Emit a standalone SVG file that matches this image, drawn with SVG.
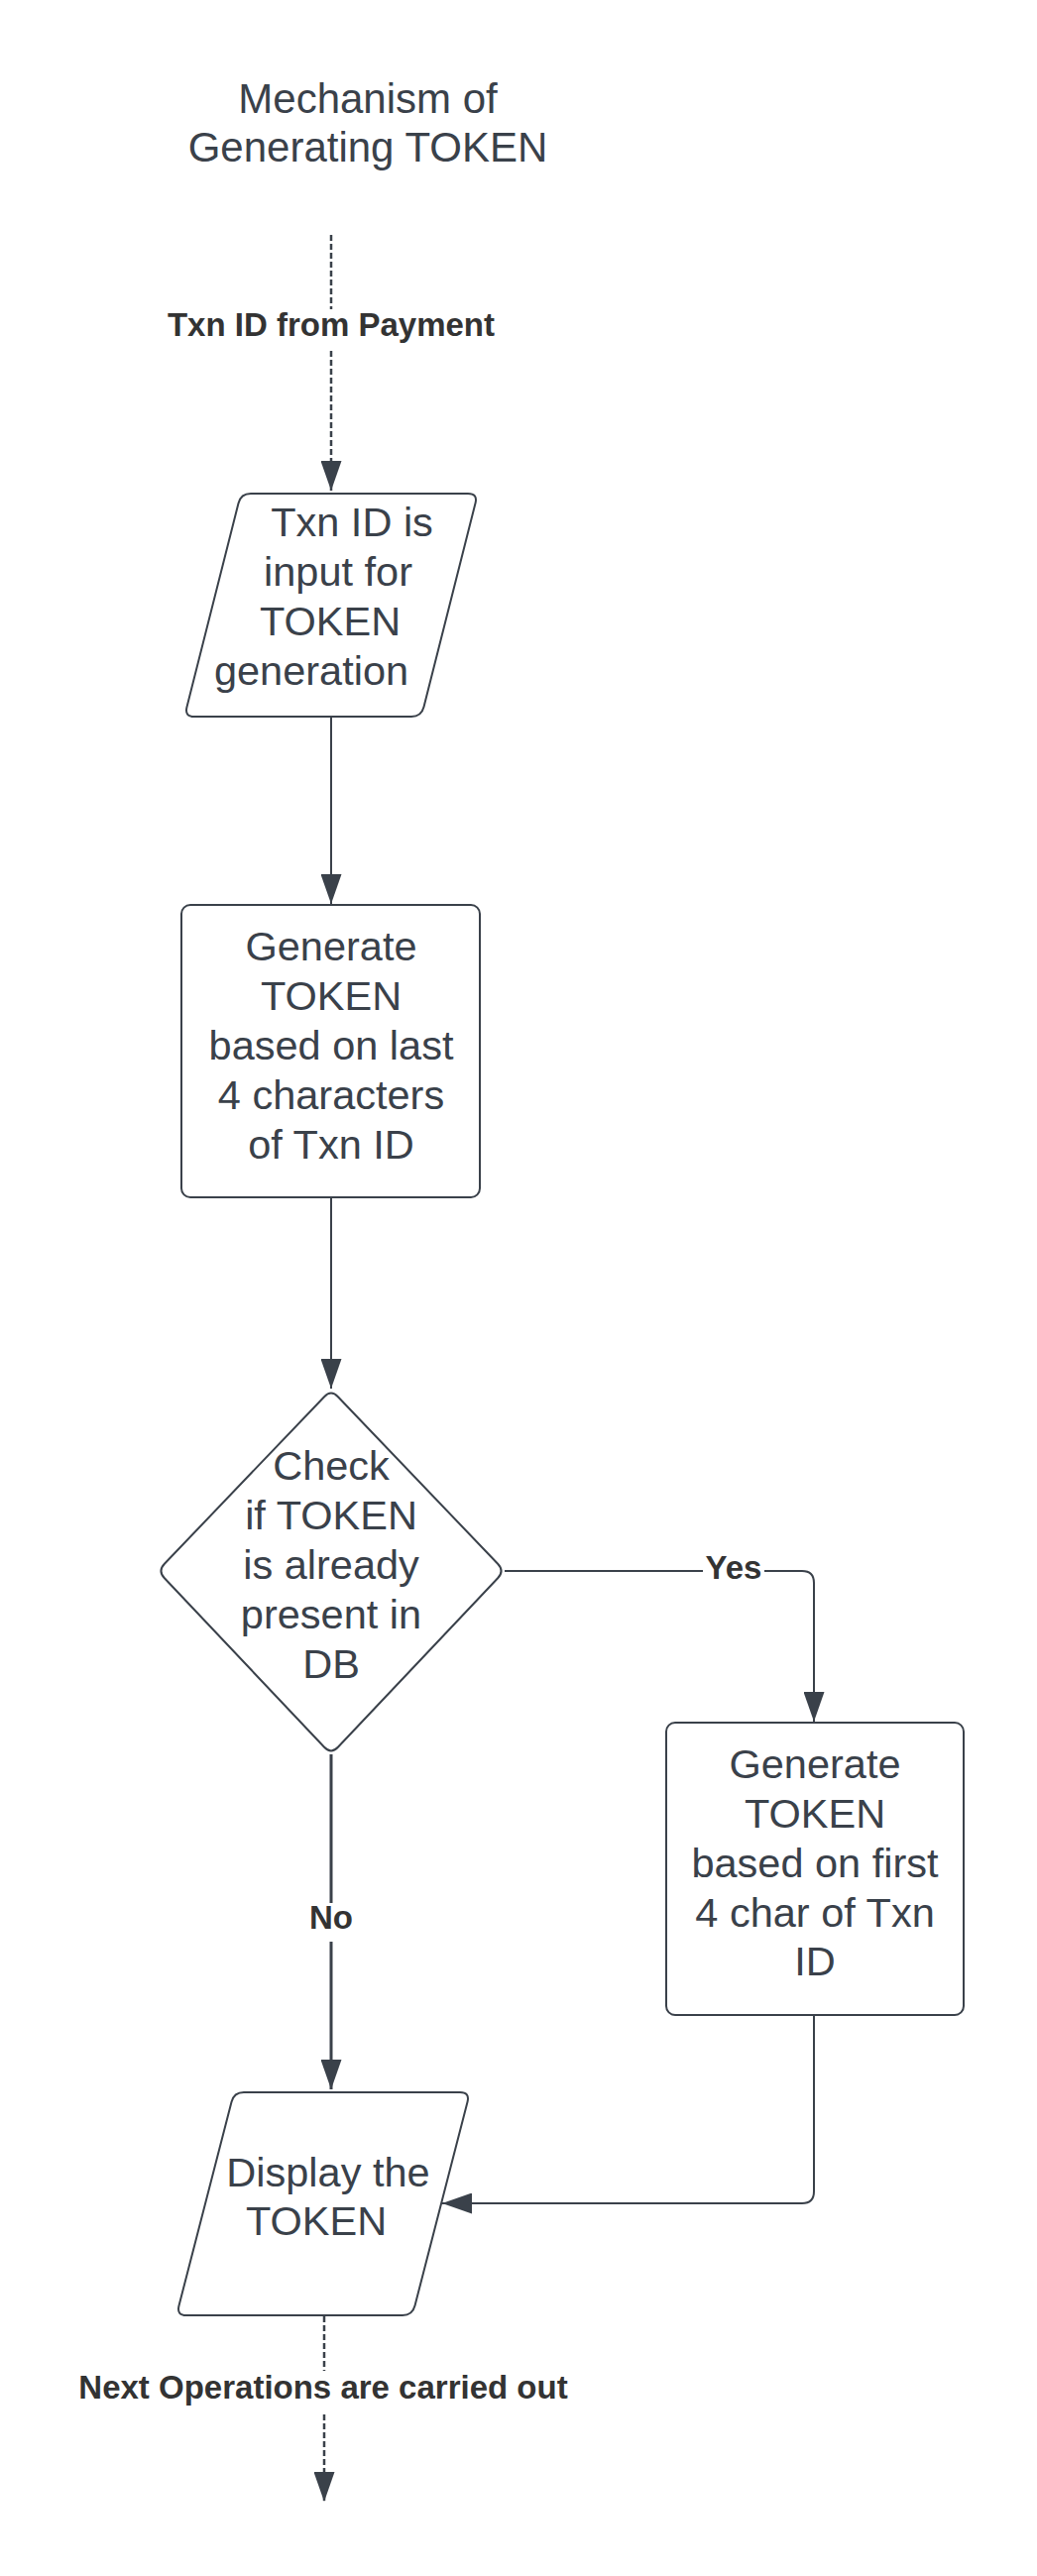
<svg xmlns="http://www.w3.org/2000/svg" width="1046" height="2599" viewBox="0 0 1046 2599">
<style>
.shape{fill:#ffffff;stroke:#3a414a;stroke-width:2}
.t{font-family:"Liberation Sans",Arial,sans-serif;font-size:41.5px;fill:#3a414a;text-anchor:middle}
.title{font-size:42px}
.lbl{font-family:"Liberation Sans",Arial,sans-serif;font-size:33px;font-weight:bold;fill:#333333;text-anchor:middle}
.c{fill:none;stroke:#3a414a;stroke-width:2}
.d{stroke-dasharray:6 3;stroke-width:2.5}
.bg{fill:#ffffff}
</style>
<defs>
<marker id="ah" markerUnits="userSpaceOnUse" markerWidth="30" markerHeight="21" refX="30" refY="10.5" orient="auto">
<path d="M0,0 L30,10.5 L0,21 Z" fill="#3a414a"/>
</marker>
</defs>
<rect width="1046" height="2599" fill="#ffffff"/>

<g id="title">
<text class="t title" x="371" y="114">Mechanism of</text>
<text class="t title" x="371" y="163">Generating TOKEN</text>
</g>

<g id="connectors">
<path class="c d" d="M334,237 L334,495" marker-end="url(#ah)"/>
<path class="c" d="M334,723 L334,912" marker-end="url(#ah)"/>
<path class="c" d="M334,1208 L334,1401" marker-end="url(#ah)"/>
<path class="c" d="M509,1585 L809,1585 Q821,1585 821,1597 L821,1737" marker-end="url(#ah)"/>
<path class="c" style="stroke-width:3" d="M334,1770 L334,2108" marker-end="url(#ah)"/>
<path class="c" d="M821,2033 L821,2211 Q821,2223 809,2223 L446,2223" marker-end="url(#ah)"/>
<path class="c d" d="M327,2337 L327,2524" marker-end="url(#ah)"/>
<g id="label-txn">
<rect class="bg" x="160" y="312" width="348" height="42"/>
<text class="lbl" x="334" y="339">Txn ID from Payment</text>
</g>
<g id="label-yes">
<rect class="bg" x="709" y="1567" width="62" height="36"/>
<text class="lbl" x="740" y="1593">Yes</text>
</g>
<g id="label-no">
<rect class="bg" x="309" y="1920" width="50" height="39"/>
<text class="lbl" x="334" y="1946">No</text>
</g>
<g id="label-next">
<rect class="bg" x="70" y="2392" width="514" height="44"/>
<text class="lbl" x="326" y="2420">Next Operations are carried out</text>
</g>
</g>

<g id="input">
<path class="shape" d="M253,498 L472,498 Q482,498 479.5,507.7 L427.5,713.3 Q425,723 415,723 L196,723 Q186,723 188.5,713.3 L240.5,507.7 Q243,498 253,498 Z"/>
<text class="t" x="355" y="541">Txn ID is</text>
<text class="t" x="341" y="591">input for</text>
<text class="t" x="333" y="641">TOKEN</text>
<text class="t" x="314" y="691">generation</text>
</g>

<g id="gen-last">
<rect class="shape" x="183" y="913" width="301" height="295" rx="9"/>
<text class="t" x="334" y="969">Generate</text>
<text class="t" x="334" y="1019">TOKEN</text>
<text class="t" x="334" y="1069">based on last</text>
<text class="t" x="334" y="1119">4 characters</text>
<text class="t" x="334" y="1169">of Txn ID</text>
</g>

<g id="check">
<path class="shape" d="M340.9,1409.2 L502.1,1577.8 Q509,1585 502.1,1592.2 L340.9,1762.8 Q334,1770 327.1,1762.8 L165.9,1592.2 Q159,1585 165.9,1577.8 L327.1,1409.2 Q334,1402 340.9,1409.2 Z"/>
<text class="t" x="334" y="1493">Check</text>
<text class="t" x="334" y="1543">if TOKEN</text>
<text class="t" x="334" y="1593">is already</text>
<text class="t" x="334" y="1643">present in</text>
<text class="t" x="334" y="1693">DB</text>
</g>

<g id="gen-first">
<rect class="shape" x="672" y="1738" width="300" height="295" rx="9"/>
<text class="t" x="822" y="1794">Generate</text>
<text class="t" x="822" y="1844">TOKEN</text>
<text class="t" x="822" y="1894">based on first</text>
<text class="t" x="822" y="1944">4 char of Txn</text>
<text class="t" x="822" y="1993">ID</text>
</g>

<g id="display">
<path class="shape" d="M246,2111 L464,2111 Q474,2111 471.5,2120.7 L418.5,2326.3 Q416,2336 406,2336 L188,2336 Q178,2336 180.5,2326.3 L233.5,2120.7 Q236,2111 246,2111 Z"/>
<text class="t" x="331" y="2206">Display the</text>
<text class="t" x="319" y="2255">TOKEN</text>
</g>
</svg>
